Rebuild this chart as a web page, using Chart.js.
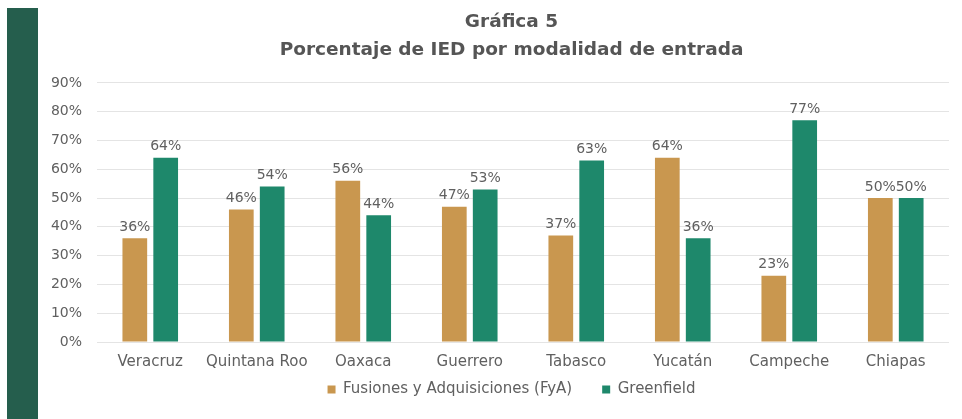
<!DOCTYPE html>
<html>
<head>
<meta charset="utf-8">
<script src="https://cdn.jsdelivr.net/npm/chart.js@4"></script>
<style>
  body { margin: 0; background: #fff; overflow: hidden; }
  #franja { position: absolute; left: 7px; top: 8px; width: 31px; height: 411px; background: #255e4d; }
  #grafica { position: absolute; left: 0; top: 0; }
</style>
</head>
<body>
<div id="franja"></div>
<canvas id="grafica" width="962" height="419"></canvas>
<script>
// ===============================
// DATOS
// ===============================
const estados = ["Veracruz", "Quintana Roo", "Oaxaca", "Guerrero", "Tabasco", "Yucatán", "Campeche", "Chiapas"];
const fusiones = [36, 46, 56, 47, 37, 64, 23, 50];
const greenfield = [64, 54, 44, 53, 63, 36, 77, 50];
const ticksY = [0, 10, 20, 30, 40, 50, 60, 70, 80, 90];

const fuente = "'DejaVu Sans', sans-serif";
const gris = "#606060";

// ===============================
// ETIQUETAS SOBRE LAS BARRAS
// ===============================
const etiquetas = {
  id: "etiquetas",
  afterDatasetsDraw(chart) {
    const c = chart.ctx;
    c.save();
    c.font = "14px " + fuente;
    c.fillStyle = gris;
    c.textAlign = "center";
    c.textBaseline = "bottom";
    chart.data.datasets.forEach((ds, i) => {
      chart.getDatasetMeta(i).data.forEach((bar, j) => {
        c.fillText(ds.data[j] + "%", bar.x, bar.y - 4);
      });
    });
    c.restore();
  }
};

// titulo y leyenda centrados sobre toda la figura, no sobre el eje
// (la leyenda usa padding grande para separar items, se sube su caja)
const centrar = {
  id: "centrar",
  afterLayout(chart) {
    [chart.titleBlock, chart.legend].forEach(b => {
      b.left += 17;
      b.right += 17;
    });
    chart.legend.top -= 22;
  }
};

// ===============================
// GRAFICA
// ===============================
new Chart(document.getElementById("grafica"), {
  type: "bar",
  data: {
    labels: estados,
    datasets: [
      {
        label: "Fusiones y Adquisiciones (FyA)",
        data: fusiones,
        backgroundColor: "#c9974f",
        categoryPercentage: 0.58,
        barPercentage: 0.8
      },
      {
        label: "Greenfield",
        data: greenfield,
        backgroundColor: "#1e886b",
        categoryPercentage: 0.58,
        barPercentage: 0.8
      }
    ]
  },
  options: {
    responsive: false,
    animation: false,
    layout: { padding: { left: 40, right: 13, top: 8, bottom: 12 } },
    plugins: {
      title: {
        display: true,
        text: ["Gráfica 5", "Porcentaje de IED por modalidad de entrada"],
        color: "#555",
        font: { family: fuente, size: 18.5, weight: "bold", lineHeight: 1.51 },
        padding: { top: 0, bottom: 19 }
      },
      legend: {
        position: "bottom",
        maxHeight: 33,
        labels: {
          color: gris,
          font: { family: fuente, size: 15 },
          boxWidth: 8,
          boxHeight: 8,
          padding: 30
        }
      },
      tooltip: { enabled: false }
    },
    scales: {
      x: {
        grid: { display: false },
        border: { display: false },
        ticks: { color: gris, font: { family: fuente, size: 15 }, padding: 3, maxRotation: 0, autoSkip: false }
      },
      y: {
        min: 0,
        max: 90,
        afterFit(scale) { scale.width = 57; },
        afterBuildTicks(scale) { scale.ticks = ticksY.map(v => ({ value: v })); },
        grid: { color: "#e4e4e4", drawTicks: false },
        border: { display: false },
        ticks: {
          color: gris,
          font: { family: fuente, size: 14 },
          padding: 15,
          callback: v => v + "%"
        }
      }
    }
  },
  plugins: [etiquetas, centrar]
});
</script>
</body>
</html>
